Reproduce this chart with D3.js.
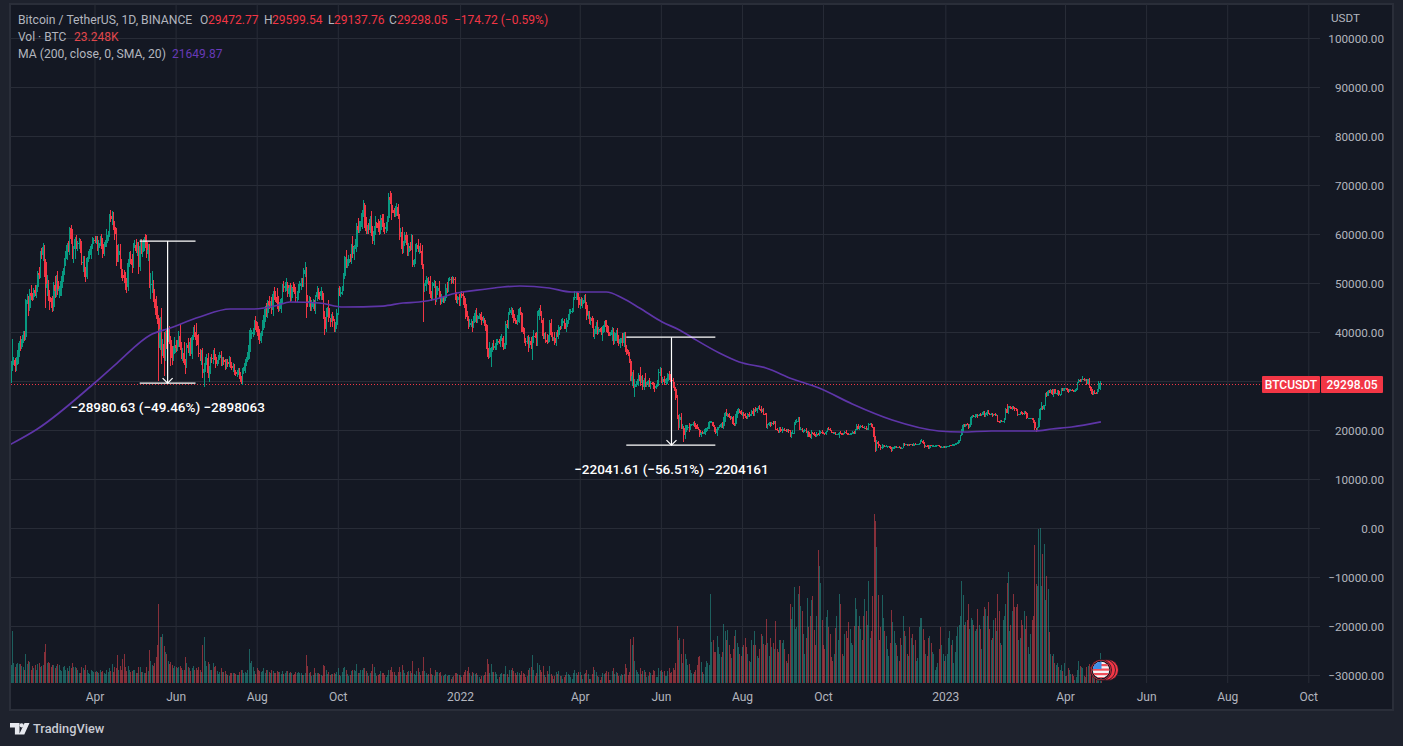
<!DOCTYPE html>
<html><head><meta charset="utf-8">
<script src="https://cdn.jsdelivr.net/npm/d3@7"></script>
<style>html,body{margin:0;background:#1e222d;overflow:hidden}svg{display:block;font-family:Roboto,sans-serif}</style>
</head><body><svg id="c" width="1403" height="746"></svg>
<script>
// Daily closes in hundreds of USD, one line per month, first day 2021-01-27
const closes=[
303,334,342,343,331,
335,355,377,369,383,393,389,465,465,448,480,474,472,486,479,491,521,516,559,558,574,542,489,497,471,463,461,451,
496,484,504,484,488,489,510,524,549,559,578,572,612,590,556,569,589,577,580,581,574,541,543,523,513,551,558,558,576,587,588,
587,589,571,582,591,580,560,581,581,598,600,636,630,632,614,600,562,557,565,538,517,512,511,501,491,540,550,549,536,577,
578,566,572,532,575,564,574,589,583,559,568,495,497,498,467,464,435,429,367,406,373,375,347,388,383,392,384,357,346,357,373,
367,376,392,369,355,358,336,334,374,367,373,356,390,405,401,384,381,358,355,356,317,325,337,347,316,323,347,345,359,350,
335,338,347,353,337,342,339,329,338,335,343,331,327,328,319,314,315,318,308,298,321,323,337,343,354,373,395,400,400,422,415,
399,392,382,397,409,428,446,438,463,456,456,444,478,471,470,459,447,448,467,493,489,493,495,477,490,469,491,489,488,470,471,
488,493,500,499,518,527,469,461,464,449,452,460,450,471,481,477,473,483,473,430,407,436,449,428,427,432,422,410,415,438,
481,477,482,492,515,553,538,540,550,547,575,560,574,574,617,609,615,620,643,660,622,607,613,609,631,603,585,606,623,619,613,
609,632,629,614,610,615,633,675,669,649,648,643,645,655,636,602,604,569,581,597,587,563,576,572,590,537,547,573,578,570,
572,565,536,492,494,506,506,505,477,471,494,501,467,484,489,476,461,469,467,469,489,486,508,508,504,508,507,475,465,471,462,
477,473,464,458,434,431,416,417,419,418,427,439,426,431,432,431,423,424,417,407,365,350,363,367,370,368,372,377,382,379,385,
387,369,373,416,414,438,441,444,436,424,422,421,425,446,439,405,401,384,380,382,370,382,373,383,392,391,377,432,
444,439,425,392,394,384,380,387,419,394,387,388,378,397,393,411,409,418,422,413,410,424,429,440,443,445,469,471,474,471,455,
463,458,464,466,455,432,434,423,428,422,395,401,412,399,406,404,397,408,415,414,405,397,395,395,404,381,392,397,386,376,
385,385,377,397,366,360,355,341,301,310,289,290,293,299,313,299,304,287,303,292,294,301,291,296,295,292,286,290,295,317,318,
298,305,297,299,299,314,311,302,301,291,284,266,225,221,226,204,205,190,206,206,207,200,211,212,215,210,207,203,201,190,
193,192,193,202,202,205,216,216,216,209,200,193,202,206,208,212,208,224,234,232,232,227,225,226,213,212,230,238,238,236,233,
233,230,228,226,233,230,232,238,232,240,239,244,244,243,239,239,233,232,208,211,215,214,215,214,216,202,200,196,203,198,201,
201,200,198,200,198,188,193,193,214,217,218,224,202,202,197,198,201,194,195,189,185,194,193,189,188,192,191,194,196,194,
193,191,196,203,202,200,195,194,194,191,191,192,194,192,191,193,196,193,191,190,192,192,196,193,201,208,203,206,208,206,205,
205,202,202,212,213,209,206,185,159,176,171,168,163,166,169,167,167,167,167,163,158,162,166,166,165,165,164,162,164,172,
170,171,169,171,170,171,168,172,171,171,171,172,178,178,174,166,168,167,164,169,168,168,168,168,168,169,167,166,166,166,165,
166,167,167,169,168,170,170,172,172,175,179,189,199,210,209,212,211,207,211,227,228,227,229,231,230,231,230,231,237,228,231,
237,234,233,233,229,232,230,230,218,216,219,218,218,222,243,235,246,246,243,248,245,242,240,232,232,236,235,232,
237,235,224,224,224,224,222,217,204,202,206,222,242,248,243,251,274,270,280,278,282,273,283,275,275,280,271,273,284,280,285,
285,282,278,282,282,280,279,280,283,297,302,299,304,305,303,303,294,304,288,282,273,278,276,275,283,284,295,293];
// Upper wick length above the body, hundreds of USD
const upperWicks=[
10,6,43,6,4,
15,8,5,15,3,10,10,3,13,9,7,15,5,4,9,5,3,12,7,13,7,4,6,20,10,15,6,12,
6,18,12,20,6,15,4,6,3,7,3,7,2,6,20,6,4,8,6,10,8,11,12,13,10,3,8,11,4,7,3,
7,6,6,6,5,9,12,2,7,13,6,5,13,14,12,13,12,15,14,14,12,12,14,12,10,8,14,16,10,4,
10,12,11,11,15,15,10,5,12,15,11,12,23,27,9,20,10,19,6,24,44,10,26,15,18,15,21,8,14,15,16,
11,7,10,24,11,10,22,8,3,14,7,15,4,6,9,18,10,15,7,7,12,11,13,9,11,7,3,8,4,9,
6,5,6,7,9,7,7,5,7,7,8,6,8,8,6,4,7,9,9,3,6,5,7,5,6,32,13,4,9,3,10,
6,13,15,6,15,7,8,13,3,11,8,16,6,13,12,20,15,14,3,4,12,9,15,7,6,9,5,12,9,3,12,
9,12,11,10,12,15,5,7,9,7,14,7,5,5,12,8,5,8,1,7,13,12,2,16,1,4,9,4,6,8,
8,13,10,2,6,3,14,10,7,9,5,20,3,15,6,16,11,7,6,9,4,13,5,9,5,16,13,10,14,2,12,
13,6,9,11,8,10,3,8,12,15,11,5,12,9,7,4,9,10,5,7,8,10,6,8,9,8,3,6,4,12,
3,10,12,3,6,8,5,6,10,6,9,6,4,9,5,15,8,9,5,3,8,14,3,5,5,6,4,6,7,2,6,
2,7,9,9,11,9,2,9,8,3,5,6,9,4,6,5,9,8,5,8,7,3,16,3,8,14,5,8,3,4,7,
8,4,5,7,8,2,9,8,6,9,4,3,9,2,6,1,6,7,4,9,12,8,7,8,13,5,8,10,
6,11,4,3,3,6,12,6,5,7,6,2,11,3,8,4,2,9,6,4,6,4,7,7,4,5,3,12,8,7,8,
4,9,5,9,11,7,8,9,2,5,6,5,9,12,4,3,7,4,8,9,11,8,3,6,6,4,9,7,11,8,
3,3,12,3,2,8,3,5,3,9,12,14,6,6,4,16,7,8,3,14,4,2,6,5,2,3,3,3,8,8,10,
8,3,6,6,7,3,6,4,2,6,7,3,5,5,7,8,8,3,4,4,4,8,1,1,2,3,5,5,4,1,
3,4,3,2,3,2,2,3,3,1,1,6,4,1,2,3,4,2,2,8,2,2,1,2,2,1,3,5,7,4,5,
3,3,4,1,2,3,1,2,6,3,6,1,5,8,6,4,6,1,2,2,2,2,2,3,3,2,2,1,3,4,6,
2,3,3,2,2,1,2,7,3,4,4,2,2,4,3,1,1,3,3,2,3,7,1,3,2,4,2,7,2,5,
1,1,2,2,3,3,1,1,1,2,1,1,2,3,1,1,1,3,1,2,2,1,1,2,2,4,5,3,2,2,1,
4,3,3,2,1,1,3,1,3,4,2,1,1,5,1,1,2,1,1,1,2,3,2,1,1,1,2,1,1,2,
2,1,1,1,1,1,1,1,1,1,1,1,2,3,2,1,1,1,2,1,1,1,1,1,1,1,1,1,1,1,1,
1,1,1,1,1,1,1,1,1,1,1,1,3,2,2,1,2,2,1,2,2,2,3,2,1,2,3,1,1,2,3,
4,3,1,1,1,1,2,2,1,1,1,2,1,2,2,11,2,3,3,1,2,2,2,2,1,1,2,2,
2,1,1,1,1,1,1,2,3,1,1,2,2,10,2,1,1,4,2,1,1,2,1,1,1,2,1,1,2,2,1,
1,1,2,1,2,1,1,1,2,1,2,2,1,5,1,1,1,1,2,1,1,2,3,1,1,16,4,1];
// Lower wick length below the body, hundreds of USD
const lowerWicks=[
10,8,14,10,12,
10,3,5,8,4,5,8,6,7,15,6,8,9,7,6,10,9,8,6,8,13,30,40,15,8,18,12,10,
8,15,13,8,15,14,15,8,8,15,13,9,14,10,6,16,20,8,12,10,13,4,18,10,11,5,8,10,8,6,8,
6,8,5,14,7,11,9,5,8,8,12,6,6,12,6,12,28,15,15,10,7,8,12,15,12,8,8,10,16,6,
5,5,10,14,8,5,10,8,12,8,15,5,27,18,6,14,8,12,67,3,38,21,37,7,17,4,9,26,13,6,1,
8,5,6,5,10,14,3,19,8,9,15,5,11,7,11,13,7,8,14,23,10,29,7,5,9,18,8,9,11,8,
9,5,4,4,6,6,7,6,5,6,6,4,5,9,6,4,5,3,4,5,6,6,6,7,4,9,13,9,11,7,11,
8,9,6,5,6,4,7,8,9,9,6,7,11,6,8,12,6,5,9,8,8,8,9,5,6,7,5,7,10,8,9,
6,8,8,7,8,6,41,9,9,7,6,5,7,14,7,9,7,7,8,3,13,8,6,8,16,7,12,9,9,8,
4,4,6,6,8,6,8,7,5,5,8,8,13,5,11,6,6,9,9,8,9,6,8,8,6,8,5,8,8,7,8,
12,8,15,10,9,7,8,8,7,20,6,8,8,8,6,15,8,9,8,6,10,8,8,6,5,5,5,8,10,7,
10,4,8,72,10,10,8,10,7,8,3,5,11,5,9,7,6,4,7,8,5,6,4,4,6,4,9,10,5,7,8,
8,3,8,8,8,8,10,6,6,19,9,6,8,8,5,7,8,4,5,5,17,5,4,34,8,5,5,9,3,3,9,
3,5,3,7,5,8,4,6,8,5,5,4,6,6,5,4,6,6,8,4,10,3,8,30,6,4,6,5,
8,6,6,7,6,7,5,3,7,4,5,5,5,6,4,7,5,3,5,7,4,9,7,4,4,4,4,4,6,6,6,
8,4,9,5,8,7,6,6,8,14,6,9,6,6,3,4,4,15,8,3,6,5,3,3,13,7,6,10,8,5,
9,8,5,7,7,6,4,4,1,11,4,22,3,2,9,10,4,5,6,4,5,6,3,7,4,8,8,2,3,6,6,
3,5,5,1,7,5,8,5,3,6,5,5,3,20,17,2,2,14,9,10,6,5,1,3,3,3,4,1,2,4,
5,1,1,3,7,4,2,2,2,2,4,2,6,2,2,3,3,5,7,3,6,3,4,3,2,3,3,5,5,2,3,
4,7,4,4,4,4,2,3,3,4,2,5,2,2,5,2,3,2,3,6,3,7,5,4,2,2,2,2,3,3,5,
3,2,2,2,4,2,5,2,1,3,3,2,1,2,2,3,3,1,9,3,2,3,1,2,3,2,2,3,2,3,
2,1,1,1,1,2,1,1,1,1,2,1,9,1,1,1,2,2,1,1,1,1,1,2,1,2,1,3,1,1,1,
1,2,1,1,1,2,1,9,3,2,8,1,3,2,3,2,1,3,1,2,3,1,1,1,1,1,1,1,1,1,
2,1,1,1,2,1,1,1,1,1,1,1,1,1,2,3,1,1,2,2,1,1,1,1,1,1,1,2,2,1,1,
1,1,1,1,1,1,1,1,1,1,1,2,1,3,2,2,1,4,3,1,2,1,2,2,5,1,2,1,1,2,1,
2,1,2,1,3,1,1,1,1,1,2,1,1,3,1,1,3,1,1,2,2,3,2,3,1,1,2,2,
1,2,1,1,1,1,1,2,3,6,2,1,2,2,3,2,2,3,1,3,3,2,5,1,1,3,1,1,2,1,1,
1,1,2,1,1,1,1,1,1,1,1,1,1,1,2,1,2,1,2,2,1,1,2,1,1,6,2,2];
// Daily volume, thousands of BTC
const volumes=[
95,80,230,90,70,
85,90,85,85,75,70,60,130,85,100,95,60,75,65,80,60,85,90,70,75,80,138,172,90,95,90,70,80,
80,65,75,85,80,60,55,70,75,60,65,55,75,65,90,70,70,65,60,45,45,70,65,60,80,60,45,40,60,55,50,
50,55,50,45,60,50,55,45,40,60,50,65,55,85,50,70,65,125,60,75,60,105,128,70,55,75,60,50,55,60,
60,45,45,70,70,50,50,45,45,70,55,148,100,80,75,90,115,167,353,205,205,216,163,138,130,100,85,95,80,65,75,
70,65,70,75,65,60,60,115,90,70,65,55,65,75,60,65,60,70,60,50,167,205,100,75,95,85,60,60,90,70,
75,55,40,50,65,50,50,55,40,35,30,45,45,45,45,40,35,35,50,60,60,45,50,45,60,152,90,100,70,55,40,
65,60,55,50,55,65,45,60,60,50,45,60,55,45,45,55,50,50,40,55,40,45,55,55,45,50,45,35,40,50,45,
50,45,45,35,35,45,123,75,45,50,30,35,65,45,45,45,40,35,30,80,75,60,40,50,35,40,40,45,40,50,
65,35,30,50,65,70,60,40,30,35,55,60,60,55,85,45,45,60,60,65,65,55,45,30,45,55,85,70,45,30,35,
40,55,45,45,35,25,35,60,60,70,50,50,35,30,50,70,50,80,60,45,35,50,55,55,45,100,40,35,55,65,
50,35,55,115,55,45,35,40,65,40,35,30,60,50,50,45,50,30,30,35,40,30,35,35,20,25,30,45,45,40,35,
35,25,35,50,60,55,70,45,30,50,45,40,45,35,25,20,30,30,35,50,105,85,45,85,50,50,50,40,20,25,40,
45,40,40,75,40,25,60,60,65,55,45,35,50,45,35,55,45,40,25,30,60,65,70,123,60,30,45,90,
80,60,50,75,35,25,55,40,75,40,30,20,30,50,40,55,30,30,20,25,35,50,40,35,25,20,45,60,45,35,50,
50,35,20,40,45,60,40,20,20,40,70,60,50,30,25,15,25,45,40,45,55,50,15,15,55,65,40,50,45,30,
30,40,35,40,85,65,35,50,194,167,205,100,60,50,40,65,40,55,60,50,25,30,50,45,35,60,55,25,25,65,55,
60,50,55,30,30,55,65,45,50,65,60,90,252,190,201,130,90,197,127,108,80,85,60,45,40,50,60,80,115,120,
95,50,40,70,100,90,80,397,182,193,140,140,207,160,130,115,140,264,230,190,237,170,130,110,150,210,234,180,160,130,120,
160,170,200,160,130,100,95,190,170,230,170,120,110,150,220,210,175,170,286,180,120,200,160,180,150,274,150,140,190,190,180,
190,150,100,90,130,352,286,340,426,240,250,395,431,341,320,220,130,200,378,250,300,370,387,237,170,300,591,520,444,280,
167,150,292,323,250,220,115,100,130,243,300,190,397,350,130,120,220,230,200,270,240,180,170,255,376,327,255,300,240,190,300,
373,320,260,452,200,230,385,752,722,605,390,190,250,390,290,230,210,150,120,180,323,270,230,180,170,120,100,200,170,300,
230,210,130,120,250,200,220,170,190,100,110,250,290,290,240,190,130,120,200,210,180,140,130,60,70,90,150,250,170,130,100,
120,130,200,230,170,190,90,140,210,250,260,300,452,390,260,270,280,350,240,290,280,260,230,240,330,260,240,150,300,340,330,
300,360,240,190,200,280,290,230,397,320,180,170,280,300,350,446,492,230,260,320,397,340,340,350,190,200,280,260,
320,240,300,160,130,220,280,300,612,440,430,683,690,430,575,619,367,474,417,227,130,120,130,90,80,90,70,60,80,55,90,
30,30,65,60,40,40,30,15,25,60,100,75,70,65,30,25,70,75,85,70,60,35,35,60,70,80,133,23];
// 200-day moving average
const maDates=["2021-01-27","2021-02-17","2021-04-01","2021-04-18","2021-05-13","2021-05-28","2021-06-19","2021-07-12","2021-07-29","2021-08-16","2021-08-26","2021-09-17","2021-10-05","2021-11-04","2021-11-19","2021-12-01","2021-12-14","2021-12-26","2022-01-21","2022-02-02","2022-02-15","2022-03-09","2022-03-26","2022-04-21","2022-05-03","2022-05-16","2022-06-02","2022-06-15","2022-06-25","2022-07-15","2022-07-30","2022-08-19","2022-09-08","2022-09-28","2022-10-23","2022-11-22","2022-12-27","2023-01-13","2023-02-05","2023-03-10","2023-03-22","2023-04-06","2023-04-28"];
const maValues=[16940,20200,29590,33670,39390,40820,43060,44690,44690,45400,46120,45920,45100,45300,45920,46120,46730,47750,48780,49180,49390,48980,48160,48160,46940,44900,42040,40410,38780,35710,33880,32650,30410,28570,25310,22040,19800,19590,19800,19800,20200,20610,21650];
const priceTicks=[100000,90000,80000,70000,60000,50000,40000,30000,20000,10000,0,-10000,-20000,-30000];
const hiddenPriceLabel=30000; // covered by the last-price tag in the reference
const timeTicks=["2021-04-01","2021-06-01","2021-08-01","2021-10-01","2022-01-01","2022-04-01","2022-06-01","2022-08-01","2022-10-01","2023-01-01","2023-04-01","2023-06-01","2023-08-01","2023-10-01"];
const timeLabels=["Apr","Jun","Aug","Oct","2022","Apr","Jun","Aug","Oct","2023","Apr","Jun","Aug","Oct"];
const measureStart=["2021-05-05","2022-05-06"], measureEnd=["2021-06-16","2022-07-12"], measureMid=["2021-05-26","2022-06-09"];
const measureFrom=[58550,38950], measureTo=[29570,16900];
const measureText=["\u221228980.63 (\u221249.46%) \u22122898063","\u221222041.61 (\u221256.51%) \u22122204161"];
const lastPrice=29298.05;

const parse=d3.utcParse("%Y-%m-%d");
const firstDay=parse("2021-01-27");
const x=d3.scaleUtc().domain([parse("2021-04-01"),parse("2023-04-01")]).range([94.5,1065]);
const y=d3.scaleLinear().domain([0,100000]).range([528,38]);
const yVol=d3.scaleLinear().domain([0,100]).range([683,660.5]);
const candles=closes.map((c,i)=>{
  const o=i?closes[i-1]:317, top=Math.max(o,c), bot=Math.min(o,c);
  return {d:d3.utcDay.offset(firstDay,i),o:o*100,c:c*100,h:(top+upperWicks[i])*100,l:(bot-lowerWicks[i])*100,v:volumes[i]};
});
const svg=d3.select("#c");
const defs=svg.append("defs");
defs.append("clipPath").attr("id","plot").append("rect").attr("x",11).attr("y",5).attr("width",1309).attr("height",678);
defs.append("clipPath").attr("id","flag").append("circle").attr("cx",1101).attr("cy",670).attr("r",8.3);
svg.append("rect").attr("x",10).attr("y",4).attr("width",1383).attr("height",706).attr("fill","#141823").attr("stroke","#2a2e39").attr("stroke-width",2);

// grid
const G="#282c37";
svg.append("g").attr("transform","translate(1320,0)")
  .call(d3.axisLeft(y).tickValues(priceTicks).tickSize(1310).tickFormat(""))
  .call(g=>g.select(".domain").remove()).selectAll("line").attr("stroke",G);
svg.append("g").attr("transform","translate(0,683)")
  .call(d3.axisTop(x).tickValues(timeTicks.map(parse)).tickSize(679).tickFormat(""))
  .call(g=>g.select(".domain").remove()).selectAll("line").attr("stroke",G);

const plot=svg.append("g").attr("clip-path","url(#plot)");
const UP="#089981",DN="#f23645";
// volume
plot.append("g").attr("shape-rendering","crispEdges").selectAll("rect").data(candles).join("rect")
  .attr("x",d=>Math.round(x(d.d))).attr("width",1).attr("y",d=>yVol(d.v)).attr("height",d=>683-yVol(d.v))
  .attr("fill",d=>d.c>=d.o?"rgba(38,166,154,.5)":"rgba(242,70,80,.52)");
// last price line
plot.append("line").attr("x1",11).attr("x2",1262).attr("y1",Math.round(y(lastPrice))+.5).attr("y2",Math.round(y(lastPrice))+.5)
  .attr("stroke",DN).attr("stroke-dasharray","1 2").attr("shape-rendering","crispEdges");
// candles
const cg=plot.append("g").attr("shape-rendering","crispEdges");
cg.selectAll("line").data(candles).join("line")
  .attr("x1",d=>Math.round(x(d.d))+.5).attr("x2",d=>Math.round(x(d.d))+.5)
  .attr("y1",d=>y(d.h)).attr("y2",d=>y(d.l)).attr("stroke",d=>d.c>=d.o?UP:DN);
cg.selectAll("rect").data(candles).join("rect")
  .attr("x",d=>x(d.d)-.25).attr("width",1.5)
  .attr("y",d=>y(Math.max(d.o,d.c))).attr("height",d=>Math.max(1,Math.abs(y(d.o)-y(d.c))))
  .attr("fill",d=>d.c>=d.o?UP:DN);
// MA
plot.append("path").datum(maDates.map((d,i)=>[parse(d),maValues[i]]))
  .attr("fill","none").attr("stroke","#5e35a8").attr("stroke-width",1.7)
  .attr("d",d3.line().x(d=>x(d[0])).y(d=>y(d[1])).curve(d3.curveMonotoneX));
// measure tools
measureStart.forEach((s,i)=>{
  const g=svg.append("g").attr("stroke","#fff").attr("stroke-width",1.2);
  const xa=x(parse(s)),xb=x(parse(measureEnd[i])),xm=x(parse(measureMid[i])),y0=y(measureFrom[i]),y1=y(measureTo[i]);
  g.append("line").attr("x1",xa).attr("x2",xb).attr("y1",y0).attr("y2",y0);
  g.append("line").attr("x1",xa).attr("x2",xb).attr("y1",y1).attr("y2",y1);
  g.append("line").attr("x1",xm).attr("x2",xm).attr("y1",y0).attr("y2",y1);
  g.append("path").attr("fill","none").attr("d",`M${xm-5} ${y1-5}L${xm} ${y1}L${xm+5} ${y1-5}`);
  svg.append("text").attr("x",xm).attr("y",y1+29).attr("text-anchor","middle").attr("fill","#fff")
    .attr("font-size",13.5).attr("font-weight",500).text(measureText[i]);
});
// axes
const fmt=v=>v===hiddenPriceLabel?"":(v<0?"\u2212":"")+Math.abs(v).toFixed(2);
svg.append("g").attr("transform","translate(1384,1)")
  .call(d3.axisLeft(y).tickValues(priceTicks).tickSize(0).tickPadding(0).tickFormat(fmt))
  .call(g=>g.select(".domain").remove())
  .selectAll("text").attr("fill","#b2b5be").attr("font-size",11.7).attr("font-family","Roboto");
svg.append("g").attr("transform","translate(0,684)")
  .call(d3.axisBottom(x).tickValues(timeTicks.map(parse)).tickSize(0).tickPadding(8).tickFormat((d,i)=>timeLabels[i]))
  .call(g=>g.select(".domain").remove())
  .selectAll("text").attr("fill","#b2b5be").attr("font-size",12).attr("font-family","Roboto");
svg.append("text").attr("x",1331).attr("y",22).attr("fill","#b2b5be").attr("font-size",11.7).text("USDT");
// price tags
const py=Math.round(y(lastPrice))+.5;
svg.append("rect").attr("x",1262).attr("y",py-8.5).attr("width",58).attr("height",17).attr("rx",1).attr("fill",DN);
svg.append("rect").attr("x",1321).attr("y",py-8.5).attr("width",62).attr("height",17).attr("rx",1).attr("fill",DN);
svg.append("text").attr("x",1291).attr("y",py+4.5).attr("text-anchor","middle").attr("fill","#fff").attr("font-size",12).attr("font-weight",500).text("BTCUSDT");
svg.append("text").attr("x",1352).attr("y",py+4.5).attr("text-anchor","middle").attr("fill","#fff").attr("font-size",12).attr("font-weight",500).text("29298.05");
// legend
const L=svg.append("g").attr("font-size",12).attr("fill","#b2b5be");
const row1=[["Bitcoin / TetherUS, 1D, BINANCE",18,"#b2b5be",12.2],["O",200,"#b2b5be",12],["29472.77",208,DN,12],["H",264,"#b2b5be",12],["29599.54",272,DN,12],["L",328,"#b2b5be",12],["29137.76",334,DN,12],["C",389,"#b2b5be",12],["29298.05",397,DN,12],["\u2212174.72 (\u22120.59%)",454,DN,12]];
row1.forEach(r=>L.append("text").attr("x",r[1]).attr("y",23.5).attr("fill",r[2]).attr("font-size",r[3]).text(r[0]));
L.append("text").attr("x",18).attr("y",40.5).text("Vol \u00b7 BTC");
L.append("text").attr("x",74).attr("y",40.5).attr("fill","#e0474c").text("23.248K");
L.append("text").attr("x",18).attr("y",57.5).attr("font-size",12.2).text("MA (200, close, 0, SMA, 20)");
L.append("text").attr("x",172).attr("y",57.5).attr("fill","#673ab7").text("21649.87");
// event flag
[1108,1105,1101].forEach(cx=>svg.append("circle").attr("cx",cx).attr("cy",670).attr("r",10.5).attr("fill",DN).attr("stroke","#131722").attr("stroke-width",.8));
svg.append("circle").attr("cx",1101).attr("cy",670).attr("r",9.4).attr("fill","#131722");
const fl=svg.append("g").attr("clip-path","url(#flag)");
fl.append("rect").attr("x",1092).attr("y",661).attr("width",18).attr("height",18).attr("fill","#f4f4f6");
[664,668.5,673,677].forEach(v=>fl.append("rect").attr("x",1092).attr("y",v).attr("width",18).attr("height",2.2).attr("fill","#f0505a"));
fl.append("rect").attr("x",1092).attr("y",661).attr("width",9.5).attr("height",8).attr("fill","#3f8ee8");
// logo
const lg=svg.append("g").attr("fill","#e6e8ee");
lg.append("path").attr("d","M10 723h9.5v11.5h-4.6v-7H10zM24.5 723h5l-5.2 11.5h-5.2z");
lg.append("circle").attr("cx",21.6).attr("cy",725.3).attr("r",2.1);
svg.append("text").attr("x",33).attr("y",733).attr("fill","#c8cbd3").attr("font-size",12.8).attr("font-weight",500).text("TradingView");
</script></body></html>
